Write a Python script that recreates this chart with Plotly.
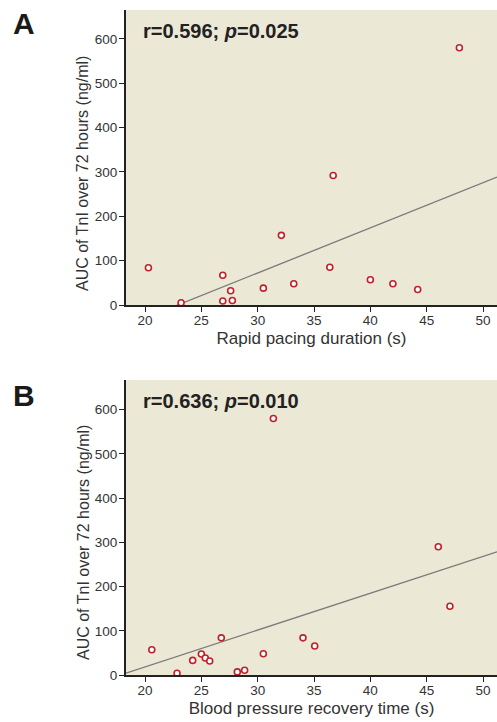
import numpy as np
import plotly.graph_objects as go

# Panel A: rapid pacing duration vs AUC of TnI
pacing_s = [20.3, 23.2, 26.9, 26.9, 27.6, 27.75, 30.5, 32.1, 33.2, 36.4, 36.7, 40.0, 42.0, 44.2, 47.9]
auc_a = [84, 5, 67, 9, 32, 10, 38, 157, 48, 85, 292, 57, 48, 35, 580]

# Panel B: blood pressure recovery time vs AUC of TnI
recovery_s = [20.6, 22.84, 24.23, 25.0, 25.35, 25.74, 26.77, 28.19, 28.84, 30.5, 31.39, 34.02, 35.06, 46.03, 47.06]
auc_b = [57, 4, 33, 47.5, 38.5, 31.7, 84, 7, 10.6, 48, 580, 84, 65.7, 290, 155.5]

x_ticks = [20, 25, 30, 35, 40, 45, 50]
y_ticks = [0, 100, 200, 300, 400, 500, 600]
stats_a = "r=0.596; <i>p</i>=0.025"
stats_b = "r=0.636; <i>p</i>=0.010"
y_title = "AUC of TnI over 72 hours (ng/ml)"

X_RANGE = [18.31, 51.24]
BG = "#ECE8D6"
MARK = "#C0202A"
FONT = "Liberation Sans, Arial, sans-serif"

W, H = 497, 722
ML, MR, MT, MB = 126, 0, 10, 47
PH = H - MT - MB
PW = W - ML - MR
dom_a = [1 - (305 - MT) / PH, 1.0]
dom_b = [0.0, 1 - (380 - MT) / PH]

fig = go.Figure()

for xs, ys, xa, ya in [(pacing_s, auc_a, "x", "y"), (recovery_s, auc_b, "x2", "y2")]:
    slope, icpt = np.polyfit(xs, ys, 1)
    lx = np.array(X_RANGE)
    fig.add_trace(go.Scatter(x=lx, y=slope * lx + icpt, mode="lines",
                             line=dict(color="#7a7a7a", width=1.3),
                             xaxis=xa, yaxis=ya, showlegend=False, hoverinfo="skip"))
    fig.add_trace(go.Scatter(x=xs, y=ys, mode="markers", cliponaxis=False,
                             marker=dict(size=6, color="white", line=dict(color=MARK, width=1.6)),
                             xaxis=xa, yaxis=ya, showlegend=False))

axis_common = dict(showline=True, linecolor="#222222", linewidth=2, ticks="outside",
                   ticklen=5, tickwidth=1.2, tickcolor="#222222", showgrid=False,
                   zeroline=False, automargin=False,
                   tickfont=dict(family=FONT, size=13.5, color="#333333"))
xaxis_extra = dict(ticklabelstandoff=-3)
yaxis_extra = dict(ticklabelstandoff=-1)
title_font = dict(family=FONT, size=16, color="#333333")
xtitle_font = dict(family=FONT, size=17, color="#333333")

def ypx_to_paper(py):
    return 1 - (py - MT) / PH

def xpx_to_paper(px):
    return (px - ML) / PW

fig.update_layout(
    width=W, height=H,
    margin=dict(l=ML, r=MR, t=MT, b=MB),
    paper_bgcolor="white", plot_bgcolor=BG,
    xaxis=dict(domain=[0, 1], range=X_RANGE, tickvals=x_ticks, anchor="y",
               title=dict(text="Rapid pacing duration (s)", font=xtitle_font, standoff=5),
               **axis_common, **xaxis_extra),
    yaxis=dict(domain=dom_a, range=[0, 665], tickvals=y_ticks, anchor="x", **axis_common, **yaxis_extra),
    xaxis2=dict(domain=[0, 1], range=X_RANGE, tickvals=x_ticks, anchor="y2",
                title=dict(text="Blood pressure recovery time (s)", font=xtitle_font, standoff=5),
                **axis_common, **xaxis_extra),
    yaxis2=dict(domain=dom_b, range=[0, 667], tickvals=y_ticks, anchor="x2", **axis_common, **yaxis_extra),
    annotations=[
        dict(text="<b>A</b>", xref="paper", yref="paper", x=xpx_to_paper(24), y=ypx_to_paper(24),
             xanchor="center", yanchor="middle",
             showarrow=False, font=dict(family=FONT, size=30, color="#1a1a1a")),
        dict(text="<b>B</b>", xref="paper", yref="paper", x=xpx_to_paper(24), y=ypx_to_paper(395),
             xanchor="center", yanchor="middle",
             showarrow=False, font=dict(family=FONT, size=30, color="#1a1a1a")),
        dict(text="<b>" + stats_a + "</b>", xref="paper", yref="paper", x=xpx_to_paper(141),
             y=ypx_to_paper(31), xanchor="left", yanchor="middle",
             showarrow=False, font=dict(family=FONT, size=20, color="#222222")),
        dict(text="<b>" + stats_b + "</b>", xref="paper", yref="paper", x=xpx_to_paper(141),
             y=ypx_to_paper(401), xanchor="left", yanchor="middle",
             showarrow=False, font=dict(family=FONT, size=20, color="#222222")),
        dict(text=y_title, xref="paper", yref="paper", x=xpx_to_paper(83), y=ypx_to_paper(174),
             xanchor="center", yanchor="middle", textangle=-90,
             showarrow=False, font=title_font),
        dict(text=y_title, xref="paper", yref="paper", x=xpx_to_paper(83), y=ypx_to_paper(543),
             xanchor="center", yanchor="middle", textangle=-90,
             showarrow=False, font=title_font),
    ],
)

fig.write_html("out.html", config={"displayModeBar": False},
               post_script="document.body.style.margin='0';")
